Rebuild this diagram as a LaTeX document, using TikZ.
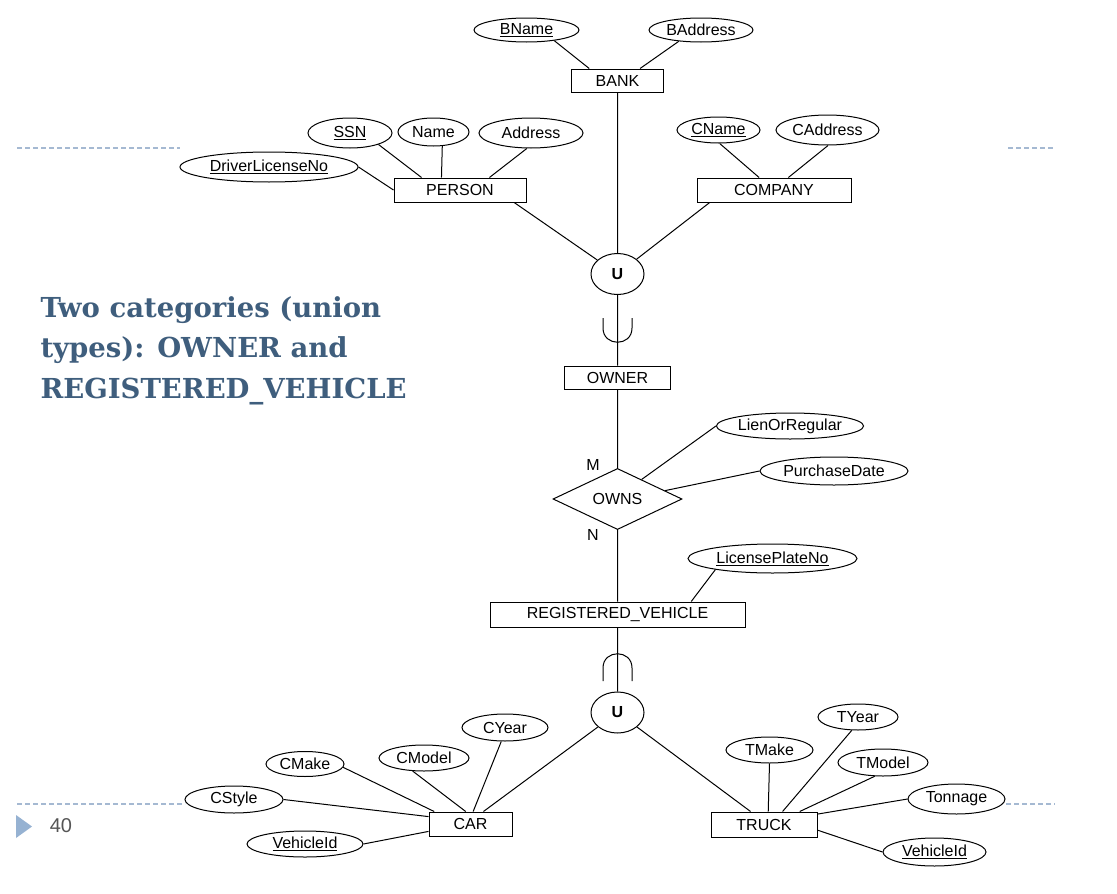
\documentclass[tikz,border=0pt]{standalone}
\usepackage{fontspec}
\setmainfont{Liberation Sans}
\newfontfamily\titlefont{DejaVu Serif}
\usepackage{tikz}
\usepackage{xcolor}
\usetikzlibrary{shapes.geometric}
\definecolor{titleblue}{RGB}{63,94,125}
\definecolor{rulegray}{RGB}{165,185,210}
\definecolor{bulletblue}{RGB}{150,178,210}
\definecolor{numgray}{RGB}{85,85,85}

\begin{document}
\begin{tikzpicture}[x=1pt, y=-1pt, line width=1pt, font=\fontsize{16}{19}\selectfont,
                    attr/.style={draw, ellipse, fill=white, inner sep=0pt},
                    ent/.style={draw, rectangle, fill=white, inner sep=0pt, minimum height=24},
                    rel/.style={draw, diamond, fill=white, inner sep=0pt, minimum width=129, minimum height=54},
                    un/.style={draw, ellipse, fill=white, inner sep=0pt, minimum width=53, minimum height=41, font=\fontsize{16}{19}\selectfont\bfseries},
                    slide/.style={draw=rulegray, line width=1.2pt, dash pattern=on 5pt off 3pt}]
                        \fill[white] (0,0) rectangle (1117,894);
                        \useasboundingbox (0,0) rectangle (1117,894);
                        \draw[slide] (17,148) -- (180,148);
                        \draw[slide] (1008,148) -- (1055,148);
                        \draw[slide] (17,804) -- (185,804);
                        \draw[slide] (1006,804) -- (1055,804);
                        \fill[bulletblue] (16,815) -- (32,826.5) -- (16,838) -- cycle;
                        \node[text=numgray, font=\fontsize{20}{24}\selectfont] (page) at (61,826) {40};
                        \node[anchor=base west, align=left, inner sep=0pt, text=titleblue,
                              font=\titlefont\bfseries\fontsize{27.5}{40.5}\selectfont] (title) at (40,398)
                              {Two categories (union\\types): OWNER and\\REGISTERED\_VEHICLE};
                        \node[attr, minimum width=105, minimum height=24] (bname) at (526.5,30) {\underline{BName}};
                        \node[attr, minimum width=104, minimum height=24] (baddr) at (701,30) {BAddress};
                        \node[ent, minimum width=92, minimum height=23] (bank) at (617.5,80.5) {BANK};
                        \node[attr, minimum width=84, minimum height=30] (ssn) at (350,133) {\underline{SSN}};
                        \node[attr, minimum width=71, minimum height=28] (name) at (433.5,132) {Name};
                        \node[attr, minimum width=104, minimum height=30] (addr) at (531,133) {Address};
                        \node[attr, minimum width=178, minimum height=30] (dln) at (269,167) {\underline{DriverLicenseNo}};
                        \node[ent, minimum width=132] (person) at (460,190) {PERSON};
                        \node[attr, minimum width=83, minimum height=26] (cname) at (718.5,130) {\underline{CName}};
                        \node[attr, minimum width=103, minimum height=30] (caddr) at (827.5,130) {CAddress};
                        \node[ent, minimum width=154] (company) at (774,190) {COMPANY};
                        \node[un] (u1) at (617.5,274) {U};
                        \node[ent, minimum width=106, minimum height=23] (owner) at (617.5,377.5) {OWNER};
                        \node[rel] (owns) at (617.5,499) {OWNS};
                        \node (m) at (593,465) {M};
                        \node (n) at (593,535) {N};
                        \node[attr, minimum width=146, minimum height=26] (lien) at (790,426) {LienOrRegular};
                        \node[attr, minimum width=148, minimum height=28] (pdate) at (834,471) {PurchaseDate};
                        \node[attr, minimum width=169, minimum height=29] (lpn) at (772.5,558.5) {\underline{LicensePlateNo}};
                        \node[ent, minimum width=255, minimum height=25] (rv) at (617.5,614.5) {REGISTERED\_VEHICLE};
                        \node[un] (u2) at (617.5,712.5) {U};
                        \node[ent, minimum width=83] (car) at (470.5,824) {CAR};
                        \node[ent, minimum width=106, minimum height=25] (truck) at (764,824.5) {TRUCK};
                        \node[attr, minimum width=86, minimum height=27] (cyear) at (505,727.5) {CYear};
                        \node[attr, minimum width=90, minimum height=26] (cmodel) at (424,758) {CModel};
                        \node[attr, minimum width=78, minimum height=25] (cmake) at (305,764) {CMake};
                        \node[attr, minimum width=98, minimum height=27] (cstyle) at (234,799.5) {CStyle};
                        \node[attr, minimum width=116, minimum height=26] (cvid) at (305,844) {\underline{VehicleId}};
                        \node[attr, minimum width=87, minimum height=26] (tmake) at (769.5,750) {TMake};
                        \node[attr, minimum width=80, minimum height=26] (tyear) at (858,717) {TYear};
                        \node[attr, minimum width=90, minimum height=27] (tmodel) at (883,762.5) {TModel};
                        \node[attr, minimum width=97, minimum height=30] (tonnage) at (956.5,799) {Tonnage};
                        \node[attr, minimum width=103, minimum height=28] (tvid) at (934.5,852) {\underline{VehicleId}};
                        \draw
                        (bname.-21) -- (bank.157)
                        (baddr.207) -- (bank.28)
                        (bank) -- (u1) -- (owner) -- (owns) -- (rv) -- (u2)
                        (ssn.-22) -- (person.162)
                        (name.-58) -- (person.146)
                        (addr.-105) -- (person.23)
                        (dln.east) -- (person.west)
                        (cname.-85) -- (company.140)
                        (caddr.-88) -- (company.41)
                        (person.-13) -- (u1)
                        (company.191) -- (u1)
                        (lien.west) -- (owns.39)
                        (pdate.west) -- (owns.10)
                        (lpn.191) -- (rv.10)
                        (u2) -- (car.44)
                        (u2) -- (truck.136)
                        (cyear.255) -- (car.78)
                        (cmodel.229) -- (car.111)
                        (cmake.-5) -- (car.161)
                        (cstyle.east) -- (car.170)
                        (cvid.east) -- (car.190)
                        (tmake.south) -- (truck.72)
                        (tyear.245) -- (truck.35)
                        (tmodel.239) -- (truck.20)
                        (tonnage.west) -- (truck.11)
                        (tvid.west) -- (truck.-6);
                        \draw (603,318) -- (603,328) .. controls (603,347) and (632,347) .. (632,328) -- (632,318);
                        \draw (603,681) -- (603,668) .. controls (603,649) and (632,649) .. (632,668) -- (632,681);
                    \end{tikzpicture}
\end{document}
